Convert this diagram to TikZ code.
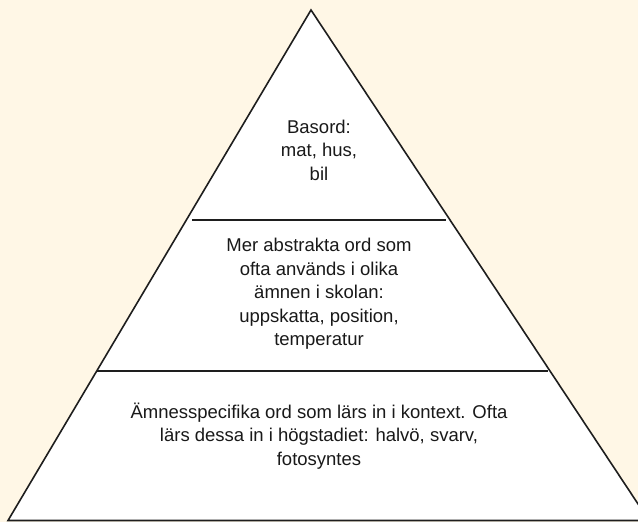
\documentclass[tikz,border=0pt]{standalone}
\usepackage{fontspec}
\setmainfont{Liberation Sans}
\definecolor{bgcream}{RGB}{255,247,230}
\definecolor{edge}{RGB}{30,30,30}
\tikzset{
  lbl/.style={align=center, inner sep=0pt, text=black!90, font=\fontsize{18.5}{23.5}\selectfont},
  tri/.style={draw=edge, fill=white, line width=1.6pt, line join=miter},
  sep/.style={draw=edge, line width=1.6pt}
}
\begin{document}
\begin{tikzpicture}[x=1pt,y=-1pt]
\useasboundingbox (0,0) rectangle (638,522);
\fill[bgcream] (0,0) rectangle (638,522);
\clip (0,0) rectangle (638,522);
\coordinate (apex) at (311,10);
\coordinate (bl) at (8,520.5);
\coordinate (br) at (649,520.5);
\path[tri] (apex) -- (bl) -- (br) -- cycle;
\coordinate (s1l) at (192,220);
\coordinate (s1r) at (446,220);
\coordinate (s2l) at (97,371);
\coordinate (s2r) at (548,371);
\draw[sep] (s1l) -- (s1r);
\draw[sep] (s2l) -- (s2r);
\node[lbl] (top) at (319,150) {Basord:\\mat, hus,\\bil};
\node[lbl] (mid) at (319,294) {Mer abstrakta ord som\\ofta används i olika\\ämnen i skolan:\\uppskatta, position,\\temperatur};
\node[lbl] (bot) at (319,436) {Ämnesspecifika ord som lärs in i kontext. Ofta\\lärs dessa in i högstadiet: halvö, svarv,\\fotosyntes};
\end{tikzpicture}
\end{document}
